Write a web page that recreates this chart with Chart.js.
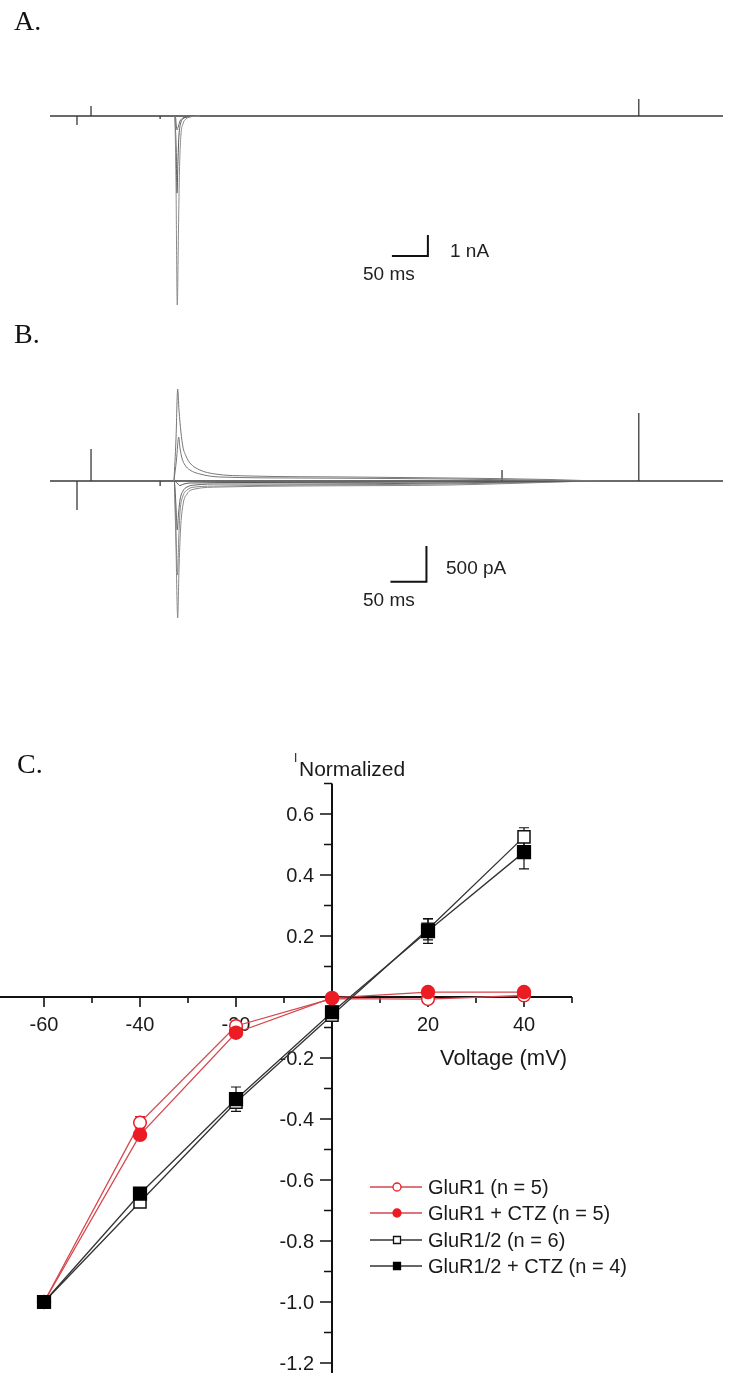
<!DOCTYPE html>
<html lang="en">
<head>
<meta charset="UTF-8">
<title>GluR1 and GluR1/2 currents</title>
<script src="https://cdn.jsdelivr.net/npm/chart.js"></script>
<style>
  html, body { margin: 0; padding: 0; background: #fff; }
  body { width: 730px; height: 1373px; position: relative; overflow: hidden; }
  canvas { position: absolute; left: 0; }
  .panel-label { position: absolute; font-family: "Liberation Serif", "DejaVu Serif", serif; font-size: 28px; line-height: 1; color: #111; }
</style>
</head>
<body>
<canvas id="traceA" width="730" height="340" style="top:0"></canvas>
<canvas id="traceB" width="730" height="330" style="top:340px"></canvas>
<canvas id="ivChart" width="730" height="703" style="top:670px"></canvas>
<div class="panel-label" style="left:14px;top:7px">A.</div>
<div class="panel-label" style="left:14px;top:320px">B.</div>
<div class="panel-label" style="left:17px;top:750px">C.</div>

<script>
// ---- current traces: [time (ms), current (pA)] ----
// stimulus artifacts on the common baseline
const A_BASELINE = [[0, 0], [37.5, 0], [37.5, -430], [37.5, 0], [57, 0], [57, 476], [57, 0],
    [153, 0], [153, -140], [153, 0], [818, 0], [818, 810], [818, 0], [935, 0]];
const A_TRACE_1 = [[173.6, 0], [175.0, -3050], [176.8, -9000], [178.5, -5430], [179.9, -2570],
    [181.9, -905], [184.7, -380], [188.9, -140], [194.4, -50], [208.3, 0]];
const A_TRACE_2 = [[173.6, 0], [175.3, -1620], [176.4, -3670], [177.8, -2095], [179.2, -905],
    [181.3, -380], [184.7, -140], [190.3, -50], [201.4, 0]];
const A_TRACE_3 = [[174.3, 0], [176.4, -665], [178.5, -475], [180.6, -240], [184.7, -95],
    [191.7, -25], [205, 0]];
const A_SCALE_BAR = [[475, -6670], [525, -6670], [525, -5670]];   // 50 ms, 1 nA

const B_BASELINE = [[0, 0], [37.5, 0], [37.5, -406], [37.5, 0], [57, 0], [57, 448], [57, 0],
    [153, 0], [153, -70], [153, 0], [628, 0], [628, 154], [628, 0], [818, 0], [818, 952], [818, 0], [935, 0]];
const B_TRACE_1 = [[172.2, 0], [175.0, 574], [177.4, 1288], [179.2, 994], [181.9, 686], [184.7, 476],
    [188.9, 350], [194.4, 252], [208.3, 154], [229.2, 98], [277.8, 70], [416.7, 56], [555.6, 42],
    [694.4, 21], [763.9, 0]];
const B_TRACE_2 = [[172.2, 0], [175.7, 294], [178.8, 616], [180.6, 462], [183.3, 322], [187.5, 224],
    [194.4, 154], [208.3, 98], [236.1, 56], [347.2, 42], [555.6, 28], [750, 0]];
const B_TRACE_3 = [[173.6, 0], [177.8, -42], [180.6, -63], [186.1, -42], [194.4, -28], [277.8, -21],
    [555.6, -14], [750, 0]];
const B_TRACE_4 = [[172.9, 0], [175.0, -336], [176.8, -686], [178.5, -462], [180.6, -266], [184.7, -140],
    [190.3, -84], [201.4, -56], [236.1, -42], [347.2, -42], [555.6, -28], [750, 0]];
const B_TRACE_5 = [[172.9, 0], [175.0, -686], [177.1, -1316], [178.8, -826], [180.6, -434], [184.7, -210],
    [190.3, -126], [201.4, -84], [236.1, -70], [347.2, -56], [555.6, -42], [750, 0]];
const B_TRACE_6 = [[172.9, 0], [175.0, -896], [177.4, -1918], [179.2, -1246], [181.3, -686], [184.7, -336],
    [190.3, -182], [201.4, -112], [236.1, -84], [347.2, -70], [555.6, -56], [750, 0]];
const B_SCALE_BAR = [[473, -1410], [523, -1410], [523, -910]];    // 50 ms, 500 pA

// ---- normalized I-V ----
const VOLTAGES = [-60, -40, -20, 0, 20, 40];
const GLUR1 = [-1.0, -0.412, -0.095, -0.005, -0.007, 0.005];
const GLUR1_SEM = [0, 0.02, 0.01, 0.005, 0.006, 0.005];
const GLUR1_CTZ = [-1.0, -0.452, -0.117, -0.003, 0.016, 0.016];
const GLUR1_CTZ_SEM = [0, 0.015, 0.01, 0.005, 0.005, 0.005];
const GLUR12 = [-1.0, -0.672, -0.345, -0.06, 0.222, 0.525];
const GLUR12_SEM = [0, 0.015, 0.02, 0.015, 0.035, 0.03];
const GLUR12_CTZ = [-1.0, -0.645, -0.335, -0.05, 0.216, 0.475];
const GLUR12_CTZ_SEM = [0, 0.02, 0.04, 0.02, 0.04, 0.055];

const SERIES_LABELS = ['GluR1 (n = 5)', 'GluR1 + CTZ (n = 5)', 'GluR1/2 (n = 6)', 'GluR1/2 + CTZ (n = 4)'];
const X_MAJOR_TICKS = [-60, -40, -20, 0, 20, 40];
const X_MINOR_TICKS = [-50, -30, -10, 10, 30, 50];
const X_TICK_LABELS = ['-60', '-40', '-20', '', '20', '40'];
const Y_MAJOR_TICKS = [0.6, 0.4, 0.2, 0, -0.2, -0.4, -0.6, -0.8, -1.0, -1.2];
const Y_MINOR_TICKS = [0.7, 0.5, 0.3, 0.1, -0.1, -0.3, -0.5, -0.7, -0.9, -1.1];
const Y_TICK_LABELS = ['0.6', '0.4', '0.2', '', '-0.2', '-0.4', '-0.6', '-0.8', '-1.0', '-1.2'];

const SANS = '"Liberation Sans", Arial, sans-serif';
const RED_LINE = '#d6474d';
const RED_MARK = '#ec1c24';
const DARK_LINE = '#333333';

// text drawn on top of the trace panels (scale bar labels)
const panelText = {
    id: 'panelText',
    afterDraw(chart, args, opts) {
        const ctx = chart.ctx;
        ctx.save();
        ctx.fillStyle = '#222';
        ctx.font = '19px ' + SANS;
        ctx.textBaseline = 'alphabetic';
        (opts.items || []).forEach(t => ctx.fillText(t.text, t.x, t.y));
        ctx.restore();
    }
};

function trace(data, color, width, smooth) {
    return {
        data: data,
        borderColor: color,
        borderWidth: width,
        pointRadius: 0,
        fill: false,
        tension: 0,
        cubicInterpolationMode: smooth ? 'monotone' : 'default',
        clip: false
    };
}

function traceChart(id, datasets, padding, yMin, yMax, texts) {
    return new Chart(document.getElementById(id), {
        type: 'line',
        data: { datasets: datasets },
        options: {
            responsive: false,
            animation: false,
            events: [],
            layout: { autoPadding: false, padding: padding },
            scales: {
                x: { type: 'linear', display: false, min: 0, max: 935 },
                y: { type: 'linear', display: false, min: yMin, max: yMax }
            },
            plugins: {
                legend: { display: false },
                tooltip: { enabled: false },
                panelText: { items: texts }
            }
        },
        plugins: [panelText]
    });
}

traceChart('traceA', [
    trace(A_TRACE_1, '#8a8a8a', 1, true),
    trace(A_TRACE_2, '#555', 1, true),
    trace(A_TRACE_3, '#666', 1, true),
    trace(A_BASELINE, '#3a3a3a', 1.3, false),
    trace(A_SCALE_BAR, '#111', 2, false)
], { left: 50, right: 7, top: 80, bottom: 10 }, -10190, 1714, [
    { text: '1 nA', x: 450, y: 257 },
    { text: '50 ms', x: 363, y: 280 }
]);

traceChart('traceB', [
    trace(B_TRACE_1, '#777', 1, true),
    trace(B_TRACE_2, '#777', 1, true),
    trace(B_TRACE_3, '#555', 1, true),
    trace(B_TRACE_4, '#666', 1, true),
    trace(B_TRACE_5, '#888', 1, true),
    trace(B_TRACE_6, '#888', 1, true),
    trace(B_BASELINE, '#3a3a3a', 1.3, false),
    trace(B_SCALE_BAR, '#111', 2, false)
], { left: 50, right: 7, top: 30, bottom: 30 }, -2226, 1554, [
    { text: '500 pA', x: 446, y: 234 },
    { text: '50 ms', x: 363, y: 266 }
]);

// ---- I-V panel: crossing axes, error bars, legend ----
const ivDecor = {
    id: 'ivDecor',
    beforeDatasetsDraw(chart) {
        const ctx = chart.ctx, xs = chart.scales.x, ys = chart.scales.y, area = chart.chartArea;
        const x0 = xs.getPixelForValue(0), y0 = ys.getPixelForValue(0);
        ctx.save();
        ctx.strokeStyle = '#111';
        ctx.lineWidth = 2;
        ctx.beginPath();
        ctx.moveTo(area.left, y0); ctx.lineTo(area.right, y0);
        ctx.moveTo(x0, area.top); ctx.lineTo(x0, area.bottom + 2);
        ctx.stroke();
        ctx.lineWidth = 1.6;
        ctx.beginPath();
        X_MAJOR_TICKS.forEach(v => { const x = xs.getPixelForValue(v); ctx.moveTo(x, y0); ctx.lineTo(x, y0 + 10); });
        X_MINOR_TICKS.forEach(v => { const x = xs.getPixelForValue(v); ctx.moveTo(x, y0); ctx.lineTo(x, y0 + 6); });
        Y_MAJOR_TICKS.forEach(v => { const y = ys.getPixelForValue(v); ctx.moveTo(x0 - 12, y); ctx.lineTo(x0, y); });
        Y_MINOR_TICKS.forEach(v => { const y = ys.getPixelForValue(v); ctx.moveTo(x0 - 8, y); ctx.lineTo(x0, y); });
        ctx.stroke();

        ctx.fillStyle = '#1a1a1a';
        ctx.font = '20px ' + SANS;
        ctx.textAlign = 'center';
        ctx.textBaseline = 'middle';
        X_MAJOR_TICKS.forEach((v, i) => ctx.fillText(X_TICK_LABELS[i], xs.getPixelForValue(v), y0 + 28));
        ctx.textAlign = 'right';
        Y_MAJOR_TICKS.forEach((v, i) => ctx.fillText(Y_TICK_LABELS[i], x0 - 18, ys.getPixelForValue(v) + 1));

        // axis titles
        ctx.textAlign = 'left';
        ctx.textBaseline = 'alphabetic';
        ctx.font = '22px ' + SANS;
        ctx.fillText('Voltage (mV)', 440, 1065 - 670);
        ctx.font = '21px ' + SANS;
        ctx.fillText('Normalized', 299, 776 - 670);
        ctx.font = '12px ' + SANS;
        ctx.fillText('I', 294, 762 - 670);

        // error bars sit under the markers
        chart.data.datasets.forEach(ds => {
            ctx.strokeStyle = ds.barColor;
            ctx.lineWidth = 1.2;
            ctx.beginPath();
            ds.data.forEach((p, i) => {
                const e = ds.errorBars[i];
                if (!e) return;
                const x = xs.getPixelForValue(p.x);
                const yt = ys.getPixelForValue(p.y + e), yb = ys.getPixelForValue(p.y - e);
                ctx.moveTo(x, yt); ctx.lineTo(x, yb);
                ctx.moveTo(x - 5, yt); ctx.lineTo(x + 5, yt);
                ctx.moveTo(x - 5, yb); ctx.lineTo(x + 5, yb);
            });
            ctx.stroke();
        });
        ctx.restore();
    },
    afterDraw(chart) {
        const ctx = chart.ctx;
        const rows = [1187, 1213, 1240, 1266];
        ctx.save();
        chart.data.datasets.forEach((ds, i) => {
            const y = rows[i] - 670;
            ctx.strokeStyle = ds.borderColor;
            ctx.lineWidth = 1.4;
            ctx.beginPath();
            ctx.moveTo(370, y); ctx.lineTo(422, y);
            ctx.stroke();
            ctx.fillStyle = ds.pointBackgroundColor;
            ctx.strokeStyle = ds.pointBorderColor;
            ctx.lineWidth = 1.3;
            ctx.beginPath();
            if (ds.pointStyle === 'circle') ctx.arc(397, y, 4, 0, Math.PI * 2);
            else ctx.rect(393.5, y - 3.5, 7, 7);
            ctx.fill();
            ctx.stroke();
            ctx.fillStyle = '#1a1a1a';
            ctx.font = '20px ' + SANS;
            ctx.textBaseline = 'middle';
            ctx.fillText(ds.label, 428, y + 1);
        });
        ctx.restore();
    }
};

function ivSeries(label, values, sem, opts) {
    return Object.assign({
        label: label,
        data: VOLTAGES.map((v, i) => ({ x: v, y: values[i] })),
        errorBars: sem,
        borderWidth: 1.3,
        pointBorderWidth: 1.5,
        tension: 0,
        fill: false,
        clip: false
    }, opts);
}

new Chart(document.getElementById('ivChart'), {
    type: 'line',
    data: {
        datasets: [
            ivSeries(SERIES_LABELS[0], GLUR1, GLUR1_SEM, {
                borderColor: RED_LINE, barColor: RED_MARK, pointStyle: 'circle', pointRadius: 6.3,
                pointBackgroundColor: '#fff', pointBorderColor: RED_MARK, order: 3
            }),
            ivSeries(SERIES_LABELS[1], GLUR1_CTZ, GLUR1_CTZ_SEM, {
                borderColor: RED_LINE, barColor: RED_MARK, pointStyle: 'circle', pointRadius: 6.5,
                pointBackgroundColor: RED_MARK, pointBorderColor: RED_MARK, order: 2
            }),
            ivSeries(SERIES_LABELS[2], GLUR12, GLUR12_SEM, {
                borderColor: DARK_LINE, barColor: '#111', pointStyle: 'rect', pointRadius: 8.5,
                pointBackgroundColor: '#fff', pointBorderColor: '#111', order: 1
            }),
            ivSeries(SERIES_LABELS[3], GLUR12_CTZ, GLUR12_CTZ_SEM, {
                borderColor: DARK_LINE, barColor: '#111', pointStyle: 'rect', pointRadius: 9,
                pointBackgroundColor: '#000', pointBorderColor: '#000', order: 0
            })
        ]
    },
    options: {
        responsive: false,
        animation: false,
        events: [],
        layout: { autoPadding: false, padding: { left: 0, right: 158, top: 113.5, bottom: 1 } },
        scales: {
            x: { type: 'linear', display: false, min: -69.17, max: 50 },
            y: { type: 'linear', display: false, min: -1.2295, max: 0.7 }
        },
        plugins: {
            legend: { display: false },
            tooltip: { enabled: false }
        }
    },
    plugins: [ivDecor]
});
</script>
</body>
</html>
